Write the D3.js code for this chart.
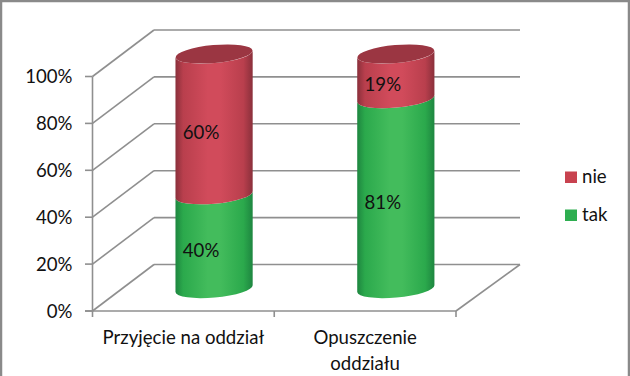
<!DOCTYPE html>
<html><head><meta charset="utf-8">
<script src="https://cdnjs.cloudflare.com/ajax/libs/d3/7.8.5/d3.min.js"></script>
<style>html,body{margin:0;padding:0;background:#fff}svg{display:block}text{font-family:Lato,"Open Sans",sans-serif;font-size:18.6px;fill:#111}</style>
</head><body><svg id="c" width="630" height="376"></svg>
<script>
const categories=[["Przyjęcie na oddział"],["Opuszczenie","oddziału"]];
const tak=[40,81];
const nie=[60,19];
const seriesNames=["nie","tak"];
const tickValues=[0,20,40,60,80,100];
const gridColor="#8f8f8f";
const svg=d3.select("#c");
const defs=svg.append("defs");
function grad(id,edge,mid,light){
  const g=defs.append("linearGradient").attr("id",id).attr("x1",0).attr("x2",1).attr("y1",0).attr("y2",0);
  [[0,edge],[.1,mid],[.42,light],[.58,light],[.88,mid],[1,edge]].forEach(s=>g.append("stop").attr("offset",s[0]).attr("stop-color",s[1]));
}
grad("gr","#8a303b","#b93f4d","#d14b5b");
grad("gg","#1e8640","#2ba94c","#43bc5c");
svg.append("path").attr("d","M1,376V1H629V376").attr("fill","none").attr("stroke","#8a8a8a").attr("stroke-width",2.5);
const y=d3.scaleLinear().domain([0,100]).range([311,76.5]);
const x=d3.scaleBand().domain([0,1]).range([92.5,456]);
const dx=61.5,dy=-46.5;
const line=(a,b,c,d)=>svg.append("line").attr("x1",a).attr("y1",b).attr("x2",c).attr("y2",d).attr("stroke",gridColor).attr("stroke-width",1.6);
tickValues.forEach(v=>{
  line(x.range()[0],y(v),x.range()[0]+dx,y(v)+dy);
  line(x.range()[0]+dx,y(v)+dy,x.range()[1]+dx+2.5,y(v)+dy);
  line(85,y(v),x.range()[0],y(v));
  svg.append("text").attr("x",72.5).attr("y",y(v)+6.5).attr("text-anchor","end").text(v+"%");
});
line(x.range()[0],y(0),x.range()[0],y(100));
line(85,y(0),x.range()[1],y(0));
line(x.range()[1],y(0),x.range()[1]+dx+2.5,y(0)+dy);
[x.range()[0],x.range()[0]+x.bandwidth(),x.range()[1]].forEach(t=>line(t,y(0),t,317));
// cylinders
const rx=38.6,ry=9,rot=-5.2,tilt=3.5,cyOff=-22.5;
const cyl=(cx,v0,v1,fill)=>{
  const y0=y(v0)+cyOff,y1=y(v1)+cyOff;
  svg.append("path").attr("d",`M${cx-rx},${y1+tilt}A${rx},${ry} ${rot} 0 0 ${cx+rx},${y1-tilt}L${cx+rx},${y0-tilt}A${rx},${ry} ${rot} 0 1 ${cx-rx},${y0+tilt}Z`).attr("fill",fill);
};
categories.forEach((c,i)=>{
  const cx=x(i)+x.bandwidth()/2+30.7;
  cyl(cx,0,tak[i],"url(#gg)");
  cyl(cx,tak[i],tak[i]+nie[i],"url(#gr)");
  svg.append("ellipse").attr("cx",cx).attr("cy",y(tak[i]+nie[i])+cyOff).attr("rx",rx).attr("ry",ry)
    .attr("transform",`rotate(${rot} ${cx} ${y(tak[i]+nie[i])+cyOff})`).attr("fill","#9b3642");
  [[0,tak[i]],[tak[i],nie[i]]].forEach(([b,v])=>{
    svg.append("text").attr("x",cx-13).attr("y",y(b+v/2)+cyOff+15).attr("text-anchor","middle").attr("fill","#0d1a10").text(v+"%");
  });
  c.forEach((t,k)=>svg.append("text").attr("x",x(i)+x.bandwidth()/2).attr("y",344+k*25.5).attr("text-anchor","middle").text(t));
});
// legend
const legendColors=["#c8424f","#2eae50"];
seriesNames.forEach((s,i)=>{
  const ly=171.5+i*38;
  svg.append("rect").attr("x",565).attr("y",ly).attr("width",12).attr("height",11.5).attr("fill",legendColors[i]);
  svg.append("text").attr("x",582).attr("y",ly+11.5).text(s);
});
</script></body></html>
